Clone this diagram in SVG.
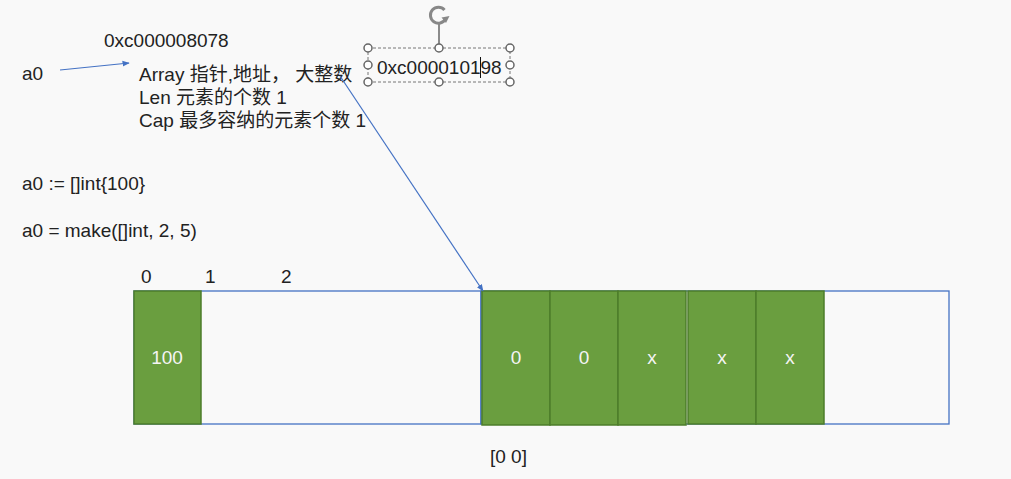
<svg xmlns="http://www.w3.org/2000/svg" width="1011" height="479" viewBox="0 0 1011 479">
<defs>
<marker id="ah" viewBox="0 0 10 10" refX="9" refY="5" markerWidth="6" markerHeight="6" orient="auto"><path d="M0,1 L10,5 L0,9 z" fill="#4472c4"/></marker>
<style>
.t{font-family:"Liberation Sans","Noto Sans CJK SC",sans-serif;font-size:19px;fill:#222}
.w{font-family:"Liberation Sans",sans-serif;font-size:19px;fill:#f4f4f4;text-anchor:middle}
.g{fill:#6a9e3f;stroke:#4d7d2b;stroke-width:1.5}
.b{fill:none;stroke:#4472c4;stroke-width:1.3}
.h{fill:#fff;stroke:#666;stroke-width:1.5}
.c{stroke:#4472c4;stroke-width:1.2;fill:none}
</style>
</defs>
<rect width="1011" height="479" fill="#f9f9f9"/>
<g id="texts">
<text class="t" x="104" y="47">0xc000008078</text>
<text class="t" x="22" y="80">a0</text>
<text class="t" x="139" y="81">Array 指针,地址，  大整数</text>
<text class="t" x="139" y="104">Len 元素的个数 1</text>
<text class="t" x="139" y="127">Cap 最多容纳的元素个数 1</text>
<text class="t" x="22" y="190">a0 := []int{100}</text>
<text class="t" x="22" y="237">a0 = make([]int, 2, 5)</text>
<text class="t" x="141" y="283">0</text>
<text class="t" x="205" y="283">1</text>
<text class="t" x="281" y="283">2</text>
<text class="t" x="490" y="463">[0 0]</text>
</g>
<g id="selbox">
<rect x="368" y="48" width="142" height="34" fill="none" stroke="#777" stroke-width="1" stroke-dasharray="3,2"/>
<line x1="439" y1="23" x2="439" y2="48" stroke="#666" stroke-width="1.5"/>
<path d="M444.5,10 A8,8 0 1 0 445.5,19" fill="none" stroke="#888" stroke-width="3"/>
<path d="M441.5,17.5 L449.5,16 L446,23 z" fill="#888"/>
<circle class="h" cx="368" cy="48" r="4"/><circle class="h" cx="439" cy="48" r="4"/><circle class="h" cx="510" cy="48" r="4"/>
<circle class="h" cx="368" cy="65" r="4"/><circle class="h" cx="510" cy="65" r="4"/>
<circle class="h" cx="368" cy="82" r="4"/><circle class="h" cx="439" cy="82" r="4"/><circle class="h" cx="510" cy="82" r="4"/>
<text class="t" x="377" y="74">0xc000010198</text>
<line x1="480.5" y1="57" x2="480.5" y2="78" stroke="#111" stroke-width="1"/>
</g>
<g id="slice1">
<rect class="b" x="134" y="291" width="347" height="133"/>
<rect class="g" x="134" y="291" width="67" height="133"/>
<text class="w" x="167" y="364">100</text>
</g>
<g id="slice2">
<rect class="b" x="481" y="291" width="468" height="133"/>
<rect class="g" x="482" y="291" width="68" height="134"/>
<rect class="g" x="550" y="291" width="68" height="134"/>
<rect class="g" x="618" y="291" width="68" height="134"/>
<rect class="g" x="688" y="291" width="68" height="133"/>
<rect class="g" x="756" y="291" width="68" height="133"/>
<text class="w" x="516" y="364">0</text>
<text class="w" x="584" y="364">0</text>
<text class="w" x="652" y="364">x</text>
<text class="w" x="722" y="364">x</text>
<text class="w" x="790" y="364">x</text>
</g>
<g id="connectors">
<line class="c" x1="60" y1="70" x2="129" y2="63" marker-end="url(#ah)"/>
<line class="c" x1="340" y1="76" x2="483" y2="291" marker-end="url(#ah)"/>
</g>
</svg>
